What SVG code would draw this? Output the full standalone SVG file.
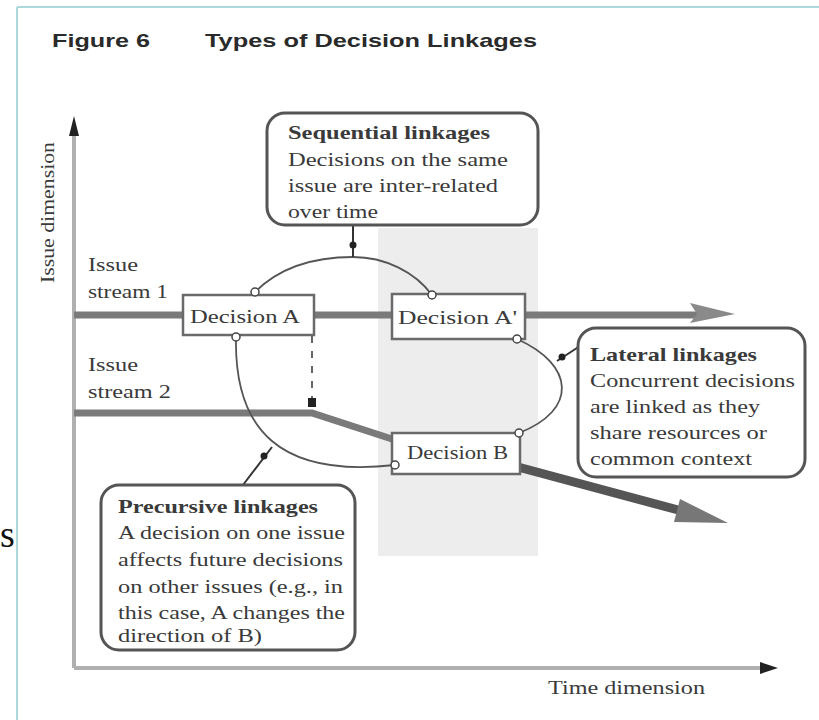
<svg xmlns="http://www.w3.org/2000/svg" width="819" height="720" viewBox="0 0 819 720">
<style>
.t{font-family:"Liberation Serif","Times New Roman",serif;font-size:19px;fill:#3a3a3a}
.b{font-weight:bold}
.title{font-family:"Liberation Sans",Arial,sans-serif;font-size:19px;font-weight:bold;fill:#2a2a2a}
.box{fill:#fff;stroke:#555;stroke-width:3}
.dec{fill:#fff;stroke:#6a6a6a;stroke-width:2.5}
.arc{fill:none;stroke:#555;stroke-width:1.8}
.end{fill:#fff;stroke:#444;stroke-width:1.5}
.dot{fill:#222}
</style>
<rect x="0" y="0" width="819" height="720" fill="#fff"/>
<line x1="17" y1="7" x2="819" y2="7" stroke="#acd9dc" stroke-width="2"/>
<line x1="17" y1="7" x2="17" y2="720" stroke="#acd9dc" stroke-width="2"/>
<text x="0" y="547" font-family="Liberation Serif, serif" font-size="38" fill="#111">s</text>

<g id="title">
<text class="title" x="52" y="47" textLength="98" lengthAdjust="spacingAndGlyphs">Figure 6</text>
<text class="title" x="205" y="47" textLength="332" lengthAdjust="spacingAndGlyphs">Types of Decision Linkages</text>
</g>

<rect x="378" y="228" width="160" height="328" fill="#ededed"/>

<g id="axes">
<line x1="74" y1="130" x2="74" y2="668" stroke="#b0b0b0" stroke-width="4"/>
<polygon points="74,116 69,136 79,136" fill="#222"/>
<line x1="74" y1="668" x2="764" y2="668" stroke="#b0b0b0" stroke-width="4"/>
<polygon points="778,668 760,662 760,674" fill="#222"/>
<text class="t" x="0" y="0" transform="translate(54,283) rotate(-90)" font-size="16" textLength="141" lengthAdjust="spacingAndGlyphs">Issue dimension</text>
<text class="t" x="548" y="694" textLength="157" lengthAdjust="spacingAndGlyphs">Time dimension</text>
</g>

<g id="connectors">
<line x1="74" y1="315" x2="700" y2="315" stroke="#7a7a7a" stroke-width="7"/>
<polygon points="735,314 690,303 697,314 690,323" fill="#8a8a8a"/>
<polyline points="74,413 312,413 395,440" fill="none" stroke="#7a7a7a" stroke-width="7"/>
<line x1="518" y1="467" x2="682" y2="511" stroke="#555" stroke-width="9"/>
<polygon points="728,523 680,499 674,522" fill="#777"/>
<line x1="312" y1="336" x2="312" y2="400" stroke="#555" stroke-width="1.8" stroke-dasharray="7,8"/>
<rect x="308" y="398" width="8" height="9" class="dot"/>
<path class="arc" d="M255,292 C285,262 325,257 353,257 C385,257 415,272 432,295"/>
<line x1="353" y1="225" x2="353" y2="257" stroke="#333" stroke-width="2"/>
<circle cx="353" cy="245" r="3.5" class="dot"/>
<path class="arc" d="M236,337 C234,430 280,478 395,465"/>
<line x1="243" y1="485" x2="272" y2="447" stroke="#333" stroke-width="2"/>
<circle cx="264" cy="456" r="3.5" class="dot"/>
<path class="arc" d="M517,339 C575,365 578,410 519,433"/>
<line x1="557" y1="361" x2="580" y2="346" stroke="#333" stroke-width="2"/>
<circle cx="562" cy="357" r="3.5" class="dot"/>
</g>

<g id="issue-labels">
<text class="t" x="88" y="271" textLength="50" lengthAdjust="spacingAndGlyphs">Issue</text>
<text class="t" x="88" y="298" textLength="80" lengthAdjust="spacingAndGlyphs">stream 1</text>
<text class="t" x="88" y="371" textLength="50" lengthAdjust="spacingAndGlyphs">Issue</text>
<text class="t" x="88" y="398" textLength="83" lengthAdjust="spacingAndGlyphs">stream 2</text>
</g>

<g id="decision-a">
<rect class="dec" x="183" y="295" width="131" height="40"/>
<text class="t" x="190" y="323" textLength="110" lengthAdjust="spacingAndGlyphs">Decision A</text>
</g>
<g id="decision-a2">
<rect class="dec" x="392" y="294" width="133" height="45"/>
<text class="t" x="398" y="324" textLength="119" lengthAdjust="spacingAndGlyphs">Decision A'</text>
</g>
<g id="decision-b">
<rect class="dec" x="392" y="433" width="128" height="41"/>
<text class="t" x="407" y="459" textLength="101" lengthAdjust="spacingAndGlyphs">Decision B</text>
</g>

<g id="endpoints">
<circle class="end" cx="255" cy="292" r="4"/>
<circle class="end" cx="432" cy="295" r="4"/>
<circle class="end" cx="236" cy="337" r="4"/>
<circle class="end" cx="395" cy="465" r="4"/>
<circle class="end" cx="517" cy="339" r="4"/>
<circle class="end" cx="519" cy="433" r="4"/>
</g>

<g id="sequential">
<rect class="box" x="267" y="113" width="271" height="112" rx="18"/>
<text class="t b" x="288" y="139" textLength="202" lengthAdjust="spacingAndGlyphs">Sequential linkages</text>
<text class="t" x="288" y="166" textLength="220" lengthAdjust="spacingAndGlyphs">Decisions on the  same</text>
<text class="t" x="288" y="192" textLength="210" lengthAdjust="spacingAndGlyphs">issue are inter-related</text>
<text class="t" x="288" y="218" textLength="90" lengthAdjust="spacingAndGlyphs">over time</text>
</g>

<g id="lateral">
<rect class="box" x="578" y="328" width="227" height="149" rx="18"/>
<text class="t b" x="590" y="361" textLength="167" lengthAdjust="spacingAndGlyphs">Lateral linkages</text>
<text class="t" x="590" y="387" textLength="205" lengthAdjust="spacingAndGlyphs">Concurrent decisions</text>
<text class="t" x="590" y="413" textLength="170" lengthAdjust="spacingAndGlyphs">are linked as they</text>
<text class="t" x="590" y="439" textLength="177" lengthAdjust="spacingAndGlyphs">share resources or</text>
<text class="t" x="590" y="465" textLength="162" lengthAdjust="spacingAndGlyphs">common context</text>
</g>

<g id="precursive">
<rect class="box" x="101" y="485" width="254" height="165" rx="18"/>
<text class="t b" x="118" y="513" textLength="200" lengthAdjust="spacingAndGlyphs">Precursive linkages</text>
<text class="t" x="118" y="539" textLength="227" lengthAdjust="spacingAndGlyphs">A decision on one issue</text>
<text class="t" x="118" y="566" textLength="225" lengthAdjust="spacingAndGlyphs">affects future decisions</text>
<text class="t" x="118" y="593" textLength="225" lengthAdjust="spacingAndGlyphs">on other issues (e.g., in</text>
<text class="t" x="118" y="619" textLength="227" lengthAdjust="spacingAndGlyphs">this case, A changes the</text>
<text class="t" x="118" y="642" textLength="144" lengthAdjust="spacingAndGlyphs">direction of B)</text>
</g>
</svg>
